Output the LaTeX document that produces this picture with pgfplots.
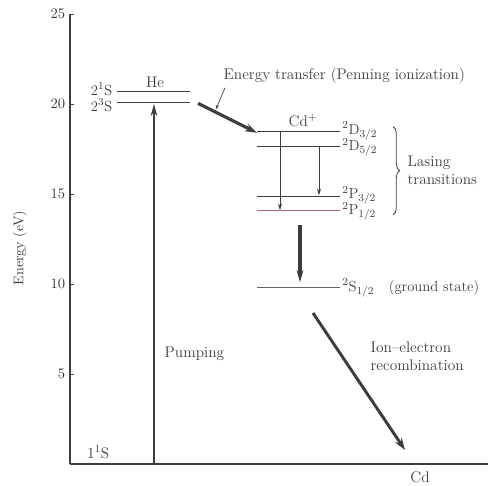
\documentclass[border=0pt]{standalone}
\usepackage{pgfplots}
\pgfplotsset{compat=1.18}
\usetikzlibrary{arrows.meta,decorations.pathreplacing}
\definecolor{ink}{RGB}{60,60,60}
\definecolor{pink}{RGB}{185,105,115}
\begin{document}
\begin{tikzpicture}[x=0.75pt,y=0.75pt]
\begin{axis}[
  scale only axis,
  width=313.5pt, height=337.5pt,
  xmin=70, xmax=488, ymin=0, ymax=25,
  axis lines=left,
  axis line style={-, ink, line width=0.8pt},
  xtick=\empty,
  ytick={5,10,15,20,25},
  tick align=inside,
  major tick length=3pt,
  tick style={ink, line width=0.6pt},
  yticklabel style={font=\fontsize{11}{13}\selectfont, text=ink},
  clip=false,
]
% He levels
\addplot[ink, line width=0.8pt] coordinates {(117,20.68) (190,20.68)};
\addplot[ink, line width=0.8pt] coordinates {(117,20.09) (190,20.09)};
\addplot[ink, line width=1.8pt] coordinates {(117,0) (190,0)};
% Cd+ levels
\addplot[ink, line width=0.7pt] coordinates {(257,18.46) (340,18.46)};
\addplot[ink, line width=0.7pt] coordinates {(257,17.63) (340,17.63)};
\addplot[ink, line width=0.7pt] coordinates {(257,14.89) (340,14.89)};
\addplot[pink, line width=0.7pt] coordinates {(257,14.06) (340,14.06)};
\addplot[ink!80, line width=0.7pt] coordinates {(257,9.79) (340,9.79)};
% Cd ground
\addplot[ink, line width=1.8pt] coordinates {(382,0) (457,0)};
% pumping arrow
\addplot[ink, line width=2.2pt, -{Stealth[length=9pt,width=5pt]}] coordinates {(154,0) (154,20.0)};
% energy transfer arrow
\addplot[ink, line width=2.4pt, -{Stealth[length=9pt,width=6pt]}] coordinates {(198,20.04) (257,18.40)};
% leader
\addplot[ink, line width=0.5pt, -{Stealth[length=3pt,width=2pt]}] coordinates {(225,20.9) (216,19.72)};
% lasing thin arrows
\addplot[ink, line width=0.6pt, -{Stealth[length=5pt,width=3pt]}] coordinates {(280,18.46) (280,14.1)};
\addplot[ink, line width=0.6pt, -{Stealth[length=5pt,width=3pt]}] coordinates {(319,17.63) (319,14.93)};
% decay arrow
\addplot[ink, line width=2.4pt, -{Stealth[length=9pt,width=5pt]}] coordinates {(300,13.28) (300,10.1)};
% recombination arrow
\addplot[ink, line width=2.2pt, -{Stealth[length=9pt,width=6pt]}] coordinates {(313,8.39) (405,0.78)};
% brace
\draw[ink, line width=0.6pt, decorate, decoration={brace, amplitude=5pt}] (axis cs:393,18.75) -- (axis cs:393,13.85);
% labels
\begin{scope}[every node/.append style={font=\fontsize{11.5}{13.5}\selectfont, text=ink}]
\node[anchor=east, inner sep=1pt, font=\fontsize{11}{13}\selectfont] at (axis cs:114,20.82) {2$^1$S};
\node[anchor=east, inner sep=1pt, font=\fontsize{11}{13}\selectfont] at (axis cs:114,19.93) {2$^3$S};
\node at (axis cs:155,21.2) {He};
\node[anchor=east] at (axis cs:114,0.67) {1$^1$S};
\node[anchor=west] at (axis cs:160,6.1) {Pumping};
\node[anchor=west] at (axis cs:219,21.56) {Energy transfer (Penning ionization)};
\node at (axis cs:303,19.1) {Cd$^+$};
\begin{scope}[every node/.append style={font=\fontsize{11}{13}\selectfont, inner sep=0pt, anchor=west}]
\node at (axis cs:342,18.5) {$^2$D$_{3/2}$};
\node at (axis cs:342,17.6) {$^2$D$_{5/2}$};
\node at (axis cs:342,14.93) {$^2$P$_{3/2}$};
\node at (axis cs:342,14.02) {$^2$P$_{1/2}$};
\node at (axis cs:342,9.79) {$^2$S$_{1/2}$\quad(ground state)};
\end{scope}
\node[anchor=west, align=left, inner sep=1pt] at (axis cs:406,16.3) {Lasing\\transitions};
\node[anchor=west, align=left, inner sep=1pt] at (axis cs:369,6.0) {Ion--electron\\recombination};
\node[inner sep=1pt] at (axis cs:420,-0.75) {Cd};
\node[rotate=90, font=\fontsize{10.5}{12}\selectfont] at (axis cs:20,12.0) {Energy (eV)};
\end{scope}
\coordinate (bl) at (axis cs:0,-1.167);
\coordinate (tr) at (axis cs:504,25.78);
\end{axis}
\pgfresetboundingbox
\useasboundingbox (bl) rectangle (tr);
\end{tikzpicture}
\end{document}
